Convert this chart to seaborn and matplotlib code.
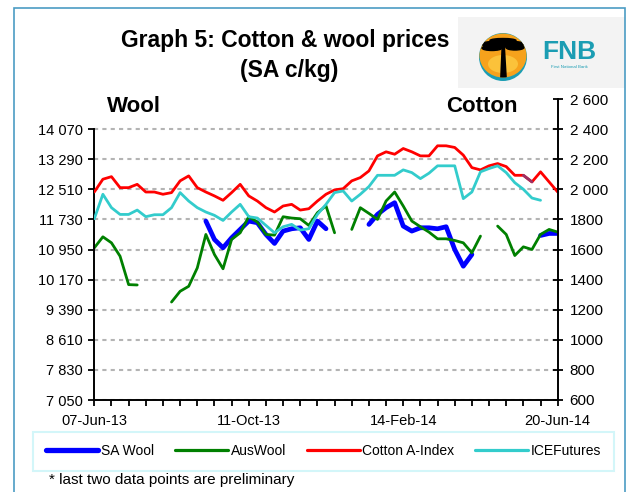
import numpy as np
import pandas as pd
import seaborn as sns
import matplotlib.pyplot as plt
from matplotlib.lines import Line2D
from matplotlib.patches import Rectangle, Circle, Ellipse, Polygon

nan = np.nan

# weekly dates, 07-Jun-13 .. 20-Jun-14
dates = pd.date_range('2013-06-07', '2014-06-20', freq='7D')

# wool, SA c/kg (left axis)
sa_wool = [nan] * 13 + [11687, 11210, 10993, 11253, 11470, 11687, 11643, 11340, 11106, 11427,
                        11487, 11513, 11210, 11687, 11487, nan, nan, nan, nan, 11600,
                        11860, 12033, 12163, 11557, 11427, 11513, 11513, 11487, 11540, 10950,
                        10517, 10820] + [nan] * 7 + [11314, 11366, 11366]
aus_wool = [10993, 11279, 11123, 10777, 10040, 10031, nan, nan, nan, 9589,
            9867, 9997, 10473, 11340, 10820, 10450, 11210, 11383, 11800, 11660,
            11340, 11323, 11799, 11765, 11747, 11574, 11903, 12080, 11383, nan,
            11470, 12033, 11886, 11730, 12207, 12440, 12077, 11687, 11540, 11401,
            11227, 11227, 11184, 11123, 10863, 11297, nan, 11557, 11340, 10794,
            11019, 10950, 11340, 11470, 11401]

# cotton, SA c/kg (right axis)
cotton_a = [1982, 2067, 2084, 2011, 2011, 2033, 1982, 1982, 1967, 1978,
            2056, 2089, 2011, 1982, 1956, 1927, 1978, 2033, 1956, 1922,
            1878, 1849, 1889, 1900, 1862, 1871, 1922, 1967, 1996, 2004,
            2056, 2078, 2122, 2222, 2249, 2233, 2271, 2249, 2222, 2222,
            2289, 2289, 2278, 2227, 2144, 2129, 2156, 2171, 2151, 2093,
            2093, 2049, 2116, 2049, 1982]
ice_fut = [1804, 1967, 1878, 1833, 1833, 1862, 1818, 1831, 1831, 1878,
           1978, 1922, 1878, 1849, 1827, 1793, 1849, 1900, 1818, 1809,
           1760, 1711, 1751, 1767, 1729, 1738, 1833, 1900, 1978, 1989,
           1922, 1967, 2018, 2093, 2093, 2093, 2129, 2111, 2071, 2107,
           2156, 2156, 2156, 1938, 1982, 2116, 2138, 2156, 2111, 2044,
           2000, 1942, 1927, nan, nan]
cotton_prelim = [nan] * 50 + [2093, 2049] + [nan] * 3

wool_ticks = [7050, 7830, 8610, 9390, 10170, 10950, 11730, 12510, 13290, 14070]
cotton_ticks = [600, 800, 1000, 1200, 1400, 1600, 1800, 2000, 2200, 2400, 2600]

series = ['SA Wool', 'AusWool', 'Cotton A-Index', 'ICEFutures']
colors = ['#0000ff', '#008000', '#ff0000', '#33cccc']

sns.set_style('white')
plt.rcParams['font.family'] = ['Liberation Sans', 'DejaVu Sans']
plt.rcParams['text.color'] = 'black'

W, H = 630, 492
fig = plt.figure(figsize=(6.3, 4.92), dpi=100)


def fx(x):
    return x / W


def fy(y):
    return 1 - y / H


ax = fig.add_axes([fx(94.3), fy(400), (557.7 - 94.3) / W, (400 - 99) / H])
ax2 = ax.twinx()


def draw(axis, vals, color, lw):
    d = pd.DataFrame({'Date': dates, 'val': vals})
    d['seg'] = d['val'].isna().cumsum()
    d = d.dropna()
    sns.lineplot(data=d, x='Date', y='val', units='seg', estimator=None, color=color,
                 linewidth=lw, solid_joinstyle='round', ax=axis, legend=False)


draw(ax, sa_wool, colors[0], 3.4)
draw(ax, aus_wool, colors[1], 2.0)
draw(ax2, cotton_a, colors[2], 2.0)
draw(ax2, ice_fut, colors[3], 2.0)
draw(ax2, cotton_prelim, '#993366', 2.0)

# left axis (wool)
ax.set_xlim(dates[0], dates[-1])
ax.set_ylim(7050, 14850)
ax.set_yticks(wool_ticks, [f'{v:,}'.replace(',', ' ') for v in wool_ticks])
ax.spines['left'].set_bounds(7050, 14070)
ax.grid(axis='y', color='#b4b4b4', lw=1.5, linestyle=(0, (2, 2)))
ax.set_axisbelow(True)

xt = dates[::2]
ax.set_xticks(xt, [d.strftime('%d-%b-%y') if k % 9 == 0 else '' for k, d in enumerate(xt)])
ax.tick_params(axis='x', bottom=True, direction='out', length=4, width=1.3, pad=6,
               labelsize=10.5, colors='black')
ax.tick_params(axis='y', left=True, direction='out', length=4, width=1.3, pad=4,
               labelsize=10.5, colors='black')

# right axis (cotton)
ax2.set_ylim(600, 2600)
ax2.set_yticks(cotton_ticks, [f'{v:,}'.replace(',', ' ') if v >= 2000 else str(v) for v in cotton_ticks])
ax2.tick_params(axis='y', right=True, direction='inout', length=7, width=1.3, pad=5,
                labelsize=11, colors='black')

for a in (ax, ax2):
    a.set_xlabel('')
    a.set_ylabel('')
    a.spines['top'].set_visible(False)
    for s in a.spines.values():
        s.set_color('black')
        s.set_linewidth(1.4)
ax.spines['right'].set_visible(False)
ax2.spines['left'].set_visible(False)
ax2.spines['bottom'].set_visible(False)

# titles
fig.text(fx(285), fy(40), 'Graph 5: Cotton & wool prices', ha='center', va='center',
         fontsize=16.5, fontweight='bold')
fig.text(fx(289), fy(71), '(SA c/kg)', ha='center', va='center', fontsize=16.5, fontweight='bold')
fig.text(fx(134), fy(106), 'Wool', ha='center', va='center', fontsize=16, fontweight='bold')
fig.text(fx(482), fy(106), 'Cotton', ha='center', va='center', fontsize=16, fontweight='bold')

# legend
handles = [Line2D([], [], color=c, lw=w) for c, w in zip(colors, [3.8, 2.3, 2.3, 2.3])]
leg = fig.legend(handles, series, loc='center', bbox_to_anchor=(fx(323.5), fy(451)), ncol=4,
                 frameon=True, fancybox=False, edgecolor='#c8f4f8', fontsize=10,
                 handlelength=3.8, handletextpad=0.2, columnspacing=1.5, borderpad=0.9)
leg.get_frame().set_linewidth(1.5)

fig.text(fx(49), fy(484), '* last two data points are preliminary', fontsize=11, va='baseline')

# outer frame
fig.add_artist(Rectangle((fx(14), -0.05), fx(625) - fx(14), fy(8) + 0.05,
                         transform=fig.transFigure, fill=False, edgecolor='#4b9cc4', lw=1.2))

# FNB logo
lg = fig.add_axes([fx(458), fy(88), (625 - 458) / W, (88 - 17) / H])
lg.set_xlim(458, 625)
lg.set_ylim(88, 17)
lg.axis('off')
lg.add_patch(Rectangle((458, 17), 167, 71, color='#f3f3f3', lw=0))
lg.add_patch(Circle((503, 57), 24, color='#1b9db3', lw=0))
disc = Ellipse((503, 55.5), 47, 44, color='#f6a21c', lw=0)
lg.add_patch(disc)
lg.add_patch(Ellipse((503, 64), 30, 18, color='#fbc23a', lw=0))
for e in [Ellipse((503, 44), 44, 6), Ellipse((492, 48), 20, 5), Ellipse((515, 47.5), 18, 5),
          Ellipse((503, 40.5), 26, 4)]:
    e.set_color('black')
    lg.add_patch(e)
    e.set_clip_path(disc)
trunk = Polygon([(501.5, 46), (505, 46), (507, 80), (500, 80)], color='black', lw=0)
lg.add_patch(trunk)
trunk.set_clip_path(disc)
lg.text(569, 52, 'FNB', ha='center', va='center', fontsize=19, fontweight='bold', color='#1b9db3')
lg.text(569, 67, 'First National Bank', ha='center', va='center', fontsize=3.2, color='#1b9db3')

fig.savefig('out.png', dpi=100)
